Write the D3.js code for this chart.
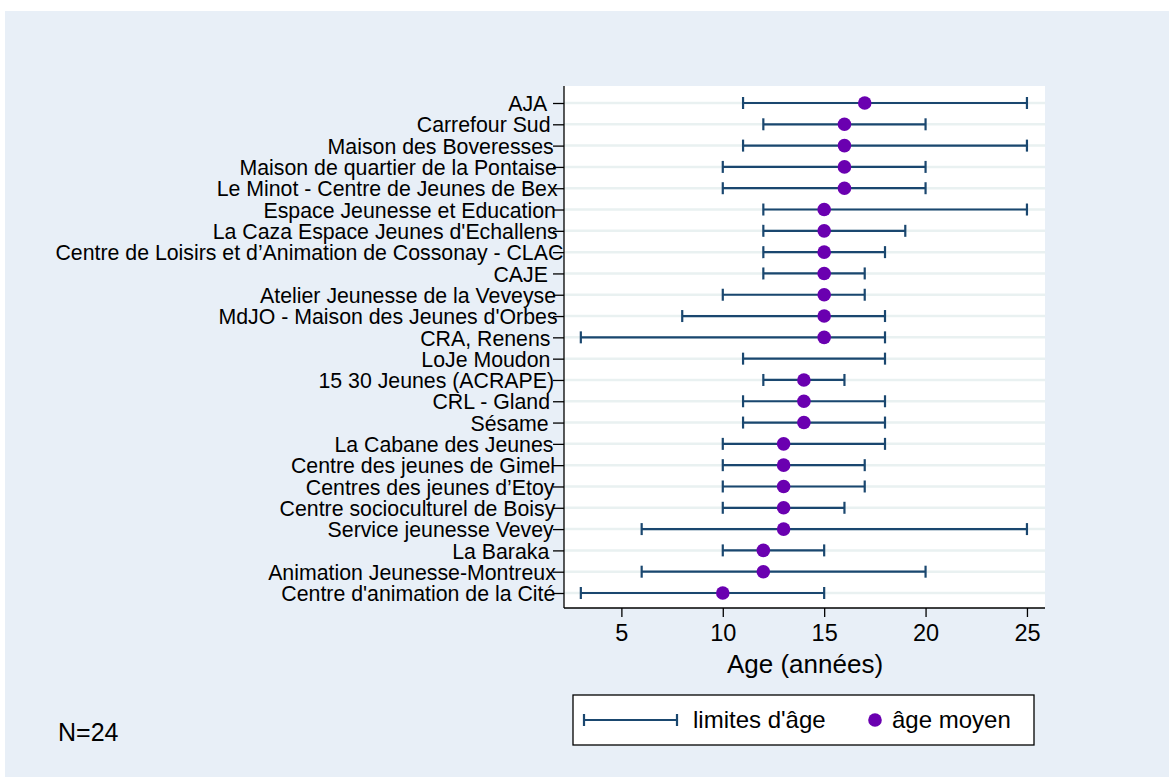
<!DOCTYPE html>
<html><head><meta charset="utf-8">
<script src="https://cdn.jsdelivr.net/npm/d3@7"></script>
<style>body{margin:0;background:#fff;}svg{display:block;font-family:"Liberation Sans",Arial,sans-serif;}</style>
</head><body>
<svg id="c" width="1169" height="777"></svg>
<script>
const categories = ["AJA","Carrefour Sud","Maison des Boveresses","Maison de quartier de la Pontaise","Le Minot - Centre de Jeunes de Bex","Espace Jeunesse et Education","La Caza Espace Jeunes d'Echallens","Centre de Loisirs et d’Animation de Cossonay - CLAC","CAJE","Atelier Jeunesse de la Veveyse","MdJO - Maison des Jeunes d'Orbes","CRA, Renens","LoJe Moudon","15 30 Jeunes (ACRAPE)","CRL - Gland","Sésame","La Cabane des Jeunes","Centre des jeunes de Gimel","Centres des jeunes d’Etoy","Centre socioculturel de Boisy","Service jeunesse Vevey","La Baraka","Animation Jeunesse-Montreux","Centre d'animation de la Cité"];
const ageMin = [11,12,11,10,10,12,12,12,12,10,8,3,11,12,11,11,10,10,10,10,6,10,6,3];
const ageMax = [25,20,25,20,20,25,19,18,17,17,18,18,18,16,18,18,18,17,17,16,25,15,20,15];
const ageMean = [17,16,16,16,16,15,15,15,15,15,15,15,null,14,14,14,13,13,13,13,13,12,12,10];
const xTicks = [5,10,15,20,25];

const svg = d3.select("#c");
svg.append("rect").attr("x",5).attr("y",11).attr("width",1164).attr("height",766).attr("fill","#e8eff7");

const L=564, R=1045, T=86, B=608;
svg.append("rect").attr("x",L).attr("y",T).attr("width",R-L).attr("height",B-T).attr("fill","#fff");

const x = d3.scaleLinear().domain([2.17,25.89]).range([L,R]);
const y = d3.scalePoint().domain(categories).range([103,593]);

const navy="#1a476f", purple="#6a00b0";

// gridlines
svg.append("g").selectAll("line").data(categories).join("line")
  .attr("x1",L).attr("x2",R).attr("y1",d=>y(d)).attr("y2",d=>y(d))
  .attr("stroke","#e9f1f1").attr("stroke-width",2.5);

// y axis
const yAxis = d3.axisLeft(y).tickSize(11).tickPadding(0);
const gy = svg.append("g").attr("transform",`translate(${L},0)`).call(yAxis);
gy.select(".domain").attr("stroke","#000").attr("stroke-width",1.3).attr("d",`M0,${T}V${B}`);
gy.selectAll(".tick line").attr("stroke","#000").attr("stroke-width",1.3);
gy.selectAll(".tick text").attr("font-size",21.3).attr("fill","#000")
  .attr("font-family","Liberation Sans, Arial, sans-serif").attr("dy","0.36em")
  .attr("text-anchor","end")
  .each(function(){ const w=this.getComputedTextLength(); d3.select(this).attr("x",(546+0.034*w)-L); });
gy.raise();

// x axis
const xAxis = d3.axisBottom(x).tickValues(xTicks).tickSize(9).tickPadding(7);
const gx = svg.append("g").attr("transform",`translate(0,${B})`).call(xAxis);
gx.select(".domain").attr("stroke","#000").attr("stroke-width",1.3).attr("d",`M${L},0H${R}`);
gx.selectAll(".tick line").attr("stroke","#000").attr("stroke-width",1.3);
gx.selectAll(".tick text").attr("font-size",23.5).attr("fill","#000").attr("font-family","Liberation Sans, Arial, sans-serif");

svg.append("text").attr("x",805).attr("y",673).attr("text-anchor","middle").attr("font-size",26).text("Age (années)");

// error bars
const rows = categories.map((c,i)=>({c,lo:ageMin[i],hi:ageMax[i],m:ageMean[i]}));
const eb = svg.append("g").attr("stroke",navy).attr("stroke-width",2.2);
eb.selectAll("line.h").data(rows).join("line").attr("class","h")
  .attr("x1",d=>x(d.lo)).attr("x2",d=>x(d.hi)).attr("y1",d=>y(d.c)).attr("y2",d=>y(d.c));
eb.selectAll("line.l").data(rows).join("line").attr("class","l")
  .attr("x1",d=>x(d.lo)).attr("x2",d=>x(d.lo)).attr("y1",d=>y(d.c)-6).attr("y2",d=>y(d.c)+6);
eb.selectAll("line.r").data(rows).join("line").attr("class","r")
  .attr("x1",d=>x(d.hi)).attr("x2",d=>x(d.hi)).attr("y1",d=>y(d.c)-6).attr("y2",d=>y(d.c)+6);

svg.append("g").selectAll("circle").data(rows.filter(d=>d.m!=null)).join("circle")
  .attr("cx",d=>x(d.m)).attr("cy",d=>y(d.c)).attr("r",6.8).attr("fill",purple);

// legend
const lg = svg.append("g");
lg.append("rect").attr("x",573).attr("y",695).attr("width",461).attr("height",50).attr("fill","#fff").attr("stroke","#000").attr("stroke-width",1.3);
lg.append("line").attr("x1",584).attr("x2",677).attr("y1",720).attr("y2",720).attr("stroke",navy).attr("stroke-width",2.2);
lg.append("line").attr("x1",584).attr("x2",584).attr("y1",714).attr("y2",726).attr("stroke",navy).attr("stroke-width",2.2);
lg.append("line").attr("x1",677).attr("x2",677).attr("y1",714).attr("y2",726).attr("stroke",navy).attr("stroke-width",2.2);
lg.append("text").attr("x",693).attr("y",728).attr("font-size",24).text("limites d'âge");
lg.append("circle").attr("cx",875).attr("cy",720).attr("r",6.8).attr("fill",purple);
lg.append("text").attr("x",892).attr("y",728).attr("font-size",24).text("âge moyen");

svg.append("text").attr("x",58).attr("y",741).attr("font-size",25).text("N=24");
</script>
</body></html>
